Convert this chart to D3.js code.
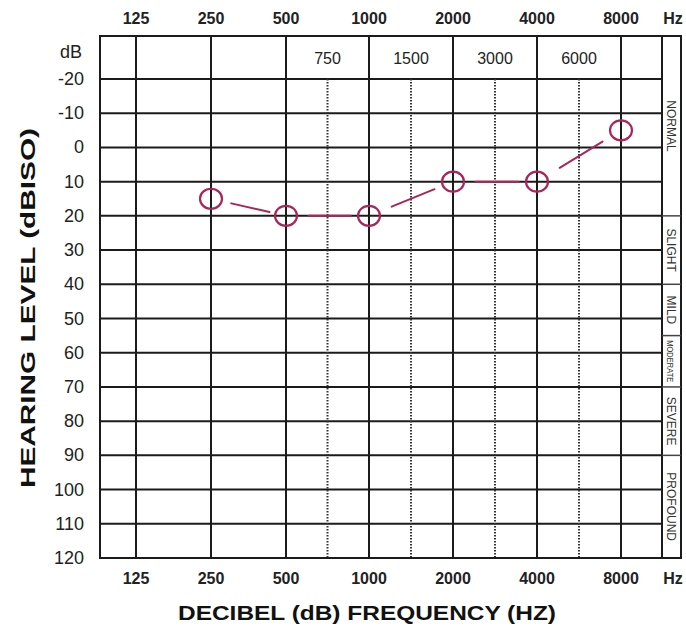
<!DOCTYPE html>
<html>
<head>
<meta charset="utf-8">
<script src="https://cdn.jsdelivr.net/npm/d3@7/dist/d3.min.js"></script>
<style>
  body { margin: 0; background: #fff; }
  text { font-family: "Liberation Sans", Arial, sans-serif; }
</style>
</head>
<body>
<div id="chart"></div>
<script>
// data
var freqs = [125, 250, 500, 1000, 2000, 4000, 8000];
var halfFreqs = [750, 1500, 3000, 6000];
var dbTicks = [-20, -10, 0, 10, 20, 30, 40, 50, 60, 70, 80, 90, 100, 110, 120];
var testFreqs = [250, 500, 1000, 2000, 4000, 8000];
var testDb = [15, 20, 20, 10, 10, -5];
var bands = ["NORMAL", "SLIGHT", "MILD", "MODERATE", "SEVERE", "PROFOUND"];
var bandEdges = [20, 40, 55, 70, 90];

var width = 686;
var height = 633;
var gLeft = 100, gridRight = 662, colRight = 681, gTop = 36, gBottom = 558;
var ink = "#1b1b1b";
var red = "#a8265a";

var svg = d3.select("#chart").append("svg")
  .attr("width", width)
  .attr("height", height);

// photo is a little stretched on the right, so piecewise log scale
var x = d3.scaleLog().base(2)
  .domain(freqs)
  .range([136, 211, 286, 369, 453, 537, 621]);

var y = d3.scaleLinear()
  .domain([-20, 120])
  .range([79, gBottom]);

// horizontal grid
svg.selectAll(".hline").data(dbTicks).enter().append("line")
  .attr("x1", gLeft).attr("x2", gridRight)
  .attr("y1", function(d) { return y(d); })
  .attr("y2", function(d) { return y(d); })
  .attr("stroke", ink).attr("stroke-width", 2);

// dotted half-octave lines, halfway between the octaves either side
var halfX = halfFreqs.map(function(f, i) {
  var a = freqs.indexOf(500) + i;
  return (x(freqs[a]) + x(freqs[a + 1])) / 2;
});
svg.selectAll(".dline").data(halfX).enter().append("line")
  .attr("x1", function(d) { return d; })
  .attr("x2", function(d) { return d; })
  .attr("y1", y(-20)).attr("y2", gBottom)
  .attr("stroke", "#333").attr("stroke-width", 2)
  .attr("stroke-dasharray", "1.5,1.5");

svg.selectAll(".hlab").data(halfFreqs).enter().append("text")
  .attr("x", function(d, i) { return halfX[i]; })
  .attr("y", 64)
  .attr("text-anchor", "middle")
  .attr("font-size", 16)
  .attr("fill", "#222")
  .text(function(d) { return d; });

// vertical octave lines
svg.selectAll(".vline").data(freqs).enter().append("line")
  .attr("x1", function(d) { return x(d); })
  .attr("x2", function(d) { return x(d); })
  .attr("y1", gTop).attr("y2", gBottom)
  .attr("stroke", ink).attr("stroke-width", 2);

// outer frame
svg.append("rect")
  .attr("x", gLeft).attr("y", gTop)
  .attr("width", colRight - gLeft).attr("height", gBottom - gTop)
  .attr("fill", "none").attr("stroke", ink).attr("stroke-width", 2);
svg.append("line")
  .attr("x1", gridRight).attr("x2", gridRight)
  .attr("y1", gTop).attr("y2", gBottom)
  .attr("stroke", ink).attr("stroke-width", 2);

// hearing loss bands on the right
var edges = [gTop].concat(bandEdges.map(y)).concat([gBottom]);
svg.selectAll(".bsep").data(bandEdges).enter().append("line")
  .attr("x1", gridRight).attr("x2", colRight)
  .attr("y1", function(d) { return y(d); })
  .attr("y2", function(d) { return y(d); })
  .attr("stroke", "#444").attr("stroke-width", 1.5);

svg.selectAll(".blab").data(bands).enter().append("text")
  .attr("transform", function(d, i) {
    var cy = (edges[i] + edges[i + 1]) / 2;
    return "translate(" + (gridRight + 5) + "," + cy + ") rotate(90)";
  })
  .attr("text-anchor", "middle")
  .attr("fill", "#333")
  .attr("textLength", function(d) { return d == "MODERATE" ? 42 : null; })
  .attr("lengthAdjust", "spacingAndGlyphs")
  .attr("font-size", function(d) { return d == "MODERATE" ? 9 : 12; })
  .text(function(d) { return d; });

// y tick labels
svg.selectAll(".ylab").data(dbTicks).enter().append("text")
  .attr("x", 84)
  .attr("y", function(d) { return y(d) + 6; })
  .attr("text-anchor", "end")
  .attr("font-size", 18)
  .attr("fill", "#222")
  .text(function(d) { return d; });
svg.append("text")
  .attr("x", 82).attr("y", 58)
  .attr("text-anchor", "end")
  .attr("font-size", 18).attr("fill", "#222")
  .text("dB");

// frequency labels top and bottom
[24, 584].forEach(function(ty) {
  svg.selectAll(null).data(freqs).enter().append("text")
    .attr("x", function(d) { return x(d); })
    .attr("y", ty)
    .attr("text-anchor", "middle")
    .attr("font-size", 16)
    .attr("font-weight", "bold")
    .attr("fill", "#222")
    .text(function(d) { return d; });
  svg.append("text")
    .attr("x", 673).attr("y", ty)
    .attr("text-anchor", "middle")
    .attr("font-size", 16).attr("font-weight", "bold")
    .attr("fill", "#222")
    .text("Hz");
});

// titles
svg.append("text")
  .attr("x", 367).attr("y", 620)
  .attr("text-anchor", "middle")
  .attr("font-size", 21).attr("font-weight", "bold")
  .attr("textLength", 378).attr("lengthAdjust", "spacingAndGlyphs")
  .attr("fill", "#111")
  .text("DECIBEL (dB) FREQUENCY (HZ)");
svg.append("text")
  .attr("transform", "translate(35,308) rotate(-90)")
  .attr("text-anchor", "middle")
  .attr("font-size", 21).attr("font-weight", "bold")
  .attr("textLength", 360).attr("lengthAdjust", "spacingAndGlyphs")
  .attr("fill", "#111")
  .text("HEARING LEVEL (dBISO)");

// the hand-drawn results: circles joined by short strokes
var pts = testFreqs.map(function(f, i) { return [x(f), y(testDb[i])]; });
svg.selectAll(".seg").data(pts.slice(1)).enter().append("line")
  .attr("x1", function(d, i) { return pts[i][0] + (d[0] - pts[i][0]) * 0.27; })
  .attr("y1", function(d, i) { return pts[i][1] + (d[1] - pts[i][1]) * 0.27; })
  .attr("x2", function(d, i) { return pts[i][0] + (d[0] - pts[i][0]) * 0.78; })
  .attr("y2", function(d, i) { return pts[i][1] + (d[1] - pts[i][1]) * 0.78; })
  .attr("stroke", red).attr("stroke-width", 2)
  .attr("stroke-linecap", "round");

svg.selectAll(".pt").data(pts).enter().append("ellipse")
  .attr("cx", function(d) { return d[0]; })
  .attr("cy", function(d) { return d[1]; })
  .attr("rx", 11).attr("ry", 10)
  .attr("fill", "none")
  .attr("stroke", red).attr("stroke-width", 2.2);
</script>
</body>
</html>
